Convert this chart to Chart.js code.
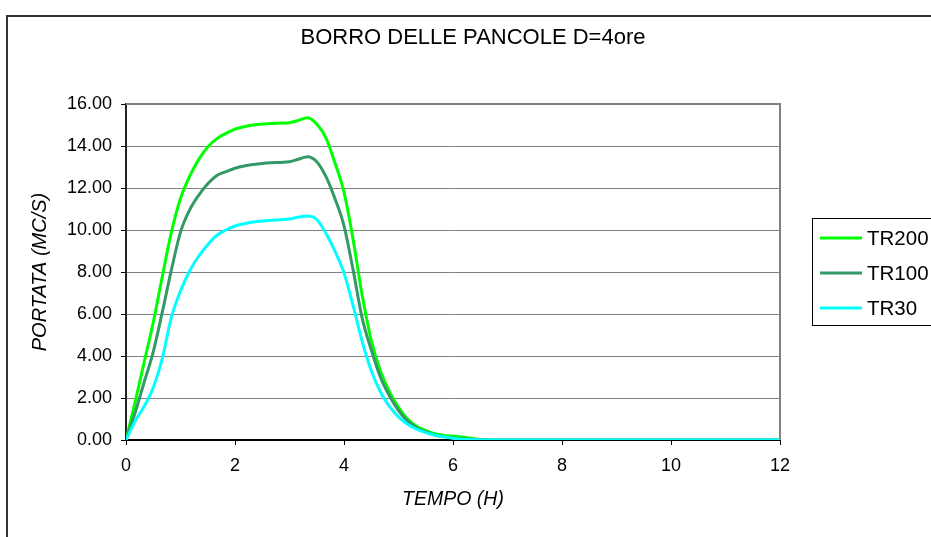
<!DOCTYPE html>
<html>
<head>
<meta charset="utf-8">
<title>BORRO DELLE PANCOLE D=4ore</title>
<script src="https://cdn.jsdelivr.net/npm/chart.js@4.4.0/dist/chart.umd.min.js"></script>
<style>
  html, body { margin: 0; padding: 0; background: #fff; }
  canvas { display: block; }
</style>
</head>
<body>
<canvas id="chart" width="931" height="537"></canvas>
<script>
// tempo (ore) e portate (mc/s)
const tempo = [0, 0.167, 0.333, 0.5, 0.667, 0.833, 1, 1.167, 1.333, 1.5, 1.667, 1.833,
  2, 2.167, 2.333, 2.5, 2.667, 2.833, 3, 3.167, 3.333, 3.5, 3.667, 3.833,
  4, 4.167, 4.333, 4.5, 4.667, 4.833, 5, 5.167, 5.333, 5.5, 5.667, 5.833,
  6, 6.167, 6.333, 6.5, 6.667, 12];
const tr200 = [0, 1.8, 3.7, 5.6, 7.8, 9.9, 11.5, 12.55, 13.35, 13.95, 14.35, 14.6,
  14.8, 14.92, 15.0, 15.05, 15.07, 15.09, 15.11, 15.22, 15.35, 15.05, 14.4, 13.2,
  11.8, 9.55, 6.9, 4.75, 3.3, 2.3, 1.55, 1.0, 0.65, 0.45, 0.3, 0.22,
  0.18, 0.14, 0.08, 0.02, 0, 0];
const tr100 = [0, 1.3, 2.75, 4.2, 6.1, 8.1, 9.9, 10.95, 11.65, 12.2, 12.6, 12.78,
  12.94, 13.05, 13.12, 13.17, 13.2, 13.22, 13.25, 13.37, 13.49, 13.25, 12.55, 11.5,
  10.2, 8.1, 5.8, 4.3, 3.0, 2.1, 1.4, 0.9, 0.58, 0.38, 0.24, 0.16,
  0.1, 0.06, 0.03, 0.01, 0, 0];
const tr30 = [0, 0.9, 1.6, 2.5, 3.9, 5.85, 7.1, 8.05, 8.75, 9.3, 9.75, 10.0,
  10.19, 10.3, 10.38, 10.43, 10.46, 10.49, 10.52, 10.62, 10.67, 10.5, 9.85, 9.0,
  7.95, 6.4, 4.7, 3.3, 2.3, 1.6, 1.1, 0.75, 0.52, 0.35, 0.23, 0.15,
  0.08, 0.04, 0.02, 0.01, 0, 0];

const seriesNames = ['TR200', 'TR100', 'TR30'];
const seriesColors = ['#00ff00', '#339966', '#00ffff'];
const xTicks = [0, 2, 4, 6, 8, 10, 12];
const yTicks = [0, 2, 4, 6, 8, 10, 12, 14, 16];

const FONT = '"Liberation Sans", Arial, sans-serif';

const toPoints = (vals) => vals.map((v, i) => ({ x: tempo[i], y: v }));

// cornice esterna, titolo, bordo area e legenda alla Excel
const excelLook = {
  id: 'excelLook',
  beforeDatasetsDraw(chart) {
    const { ctx, chartArea: a } = chart;
    ctx.save();
    ctx.strokeStyle = '#808080';
    ctx.lineWidth = 2;
    ctx.beginPath();
    ctx.moveTo(a.left, a.top);
    ctx.lineTo(a.right, a.top);
    ctx.lineTo(a.right, a.bottom);
    ctx.stroke();
    ctx.restore();
  },
  afterDraw(chart) {
    const { ctx } = chart;
    ctx.save();
    // frame
    ctx.strokeStyle = '#333';
    ctx.lineWidth = 2;
    ctx.strokeRect(7, 16, 1000, 1000);

    // title
    ctx.fillStyle = '#000';
    ctx.font = '22px ' + FONT;
    ctx.textAlign = 'center';
    ctx.textBaseline = 'middle';
    ctx.fillText('BORRO DELLE PANCOLE D=4ore', 473, 38);

    // legend
    ctx.strokeStyle = '#000';
    ctx.lineWidth = 1;
    ctx.strokeRect(812.5, 218.5, 200, 107);
    ctx.font = '20.5px ' + FONT;
    ctx.textAlign = 'left';
    chart.data.datasets.forEach((ds, i) => {
      const y = 238 + i * 35;
      ctx.strokeStyle = ds.borderColor;
      ctx.lineWidth = 3;
      ctx.beginPath();
      ctx.moveTo(820, y);
      ctx.lineTo(862, y);
      ctx.stroke();
      ctx.fillStyle = '#000';
      ctx.fillText(ds.label, 867, y + 1);
    });
    ctx.restore();
  }
};

new Chart(document.getElementById('chart'), {
  type: 'line',
  data: {
    datasets: [
      { label: seriesNames[0], data: toPoints(tr200), borderColor: seriesColors[0], order: 2 },
      { label: seriesNames[1], data: toPoints(tr100), borderColor: seriesColors[1], order: 1 },
      { label: seriesNames[2], data: toPoints(tr30), borderColor: seriesColors[2], order: 0 },
    ],
  },
  options: {
    responsive: false,
    animation: false,
    layout: { padding: { top: 104, right: 151, left: 0, bottom: 0 } },
    elements: {
      point: { radius: 0 },
      line: { borderWidth: 3, fill: false, cubicInterpolationMode: 'monotone' },
    },
    plugins: {
      legend: { display: false },
      tooltip: { enabled: false },
    },
    scales: {
      x: {
        type: 'linear',
        min: 0,
        max: 12,
        afterBuildTicks: (s) => { s.ticks = xTicks.map((v) => ({ value: v })); },
        afterFit: (s) => { s.height = 97; },
        grid: { drawOnChartArea: false, tickLength: 5, tickColor: '#000' },
        border: { color: '#000', width: 2 },
        ticks: { color: '#000', font: { family: FONT, size: 18 }, padding: 10, maxRotation: 0 },
        title: {
          display: true,
          text: 'TEMPO (H)',
          color: '#000',
          font: { family: FONT, size: 19.5, style: 'italic' },
          padding: { top: 0, bottom: 26 },
        },
      },
      y: {
        min: 0,
        max: 16,
        afterBuildTicks: (s) => { s.ticks = yTicks.map((v) => ({ value: v })); },
        afterFit: (s) => { s.width = 126; },
        grid: { color: '#808080', lineWidth: 1, tickLength: 5, tickColor: '#000' },
        border: { color: '#222', width: 2 },
        ticks: {
          color: '#000',
          font: { family: FONT, size: 18 },
          padding: 9,
          callback: (v) => v.toFixed(2),
        },
        title: {
          display: true,
          text: 'PORTATA (MC/S)',
          color: '#000',
          font: { family: FONT, size: 20, style: 'italic' },
          padding: { top: 28, bottom: 0 },
        },
      },
    },
  },
  plugins: [excelLook],
});
</script>
</body>
</html>
